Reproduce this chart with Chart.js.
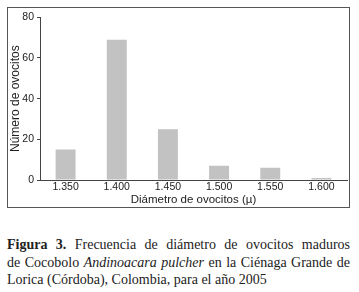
<!DOCTYPE html>
<html>
<head>
<meta charset="utf-8">
<script src="https://cdn.jsdelivr.net/npm/chart.js@4"></script>
<style>
  body { margin: 0; background: #fff; width: 359px; height: 292px; overflow: hidden; }
  #frame { position: absolute; left: 7px; top: 7px; width: 341px; height: 199px; border: 1px solid #555; }
  #caption { position: absolute; left: 7px; top: 236px; width: 343px; font-family: "Liberation Serif", "DejaVu Serif", serif;
    font-size: 14px; line-height: 17.5px; color: #222; }
  #caption div { white-space: nowrap; }
  #caption .just { text-align: justify; text-align-last: justify; }
</style>
</head>
<body>
<div id="frame"><canvas id="myChart" width="341" height="199"></canvas></div>
<div id="caption">
  <div class="just"><b>Figura 3.</b> Frecuencia de diámetro de ovocitos maduros</div>
  <div class="just" style="word-spacing:-1px">de Cocobolo <i>Andinoacara pulcher</i> en la Ciénaga Grande de</div>
  <div>Lorica (Córdoba), Colombia, para el año 2005</div>
</div>
<script>
// Categorías y valores
const diametros = ['1.350', '1.400', '1.450', '1.500', '1.550', '1.600'];
const numeroOvocitos = [15, 69, 25, 7, 6, 1];
const yTicks = [0, 20, 40, 60, 80];

const ctx = document.getElementById('myChart').getContext('2d');

const myChart = new Chart(ctx, {
  type: 'bar',
  data: {
    labels: diametros,
    datasets: [{
      label: 'Número de ovocitos',
      data: numeroOvocitos,
      backgroundColor: '#c2c2c2',
      barPercentage: 0.39,
      categoryPercentage: 1
    }]
  },
  options: {
    responsive: false,
    animation: false,
    layout: { padding: { top: 9, right: 2, left: 0, bottom: 0 } },
    plugins: { legend: { display: false }, tooltip: { enabled: false } },
    scales: {
      x: {
        afterFit: function(axis) { axis.height = 27; },
        grid: { display: false, drawTicks: false },
        border: { display: true, color: '#444', width: 1 },
        ticks: { color: '#222', font: { family: 'Liberation Sans', size: 10.5 }, padding: 1 },
        title: { display: true, text: 'Diámetro de ovocitos (µ)', color: '#222', font: { family: 'Liberation Sans', size: 11.5 }, padding: { top: 0, bottom: 0 } }
      },
      y: {
        min: 0,
        max: 80,
        afterBuildTicks: function(axis) { axis.ticks = yTicks.map(v => ({ value: v })); },
        afterFit: function(axis) { axis.width = 32; },
        grid: { drawOnChartArea: false, drawTicks: true, tickLength: 3, color: '#444' },
        border: { display: true, color: '#444', width: 1 },
        ticks: { color: '#222', font: { family: 'Liberation Sans', size: 10.5 }, padding: 3 },
        title: { display: true, text: 'Número de ovocitos', color: '#222', font: { family: 'Liberation Sans', size: 12 }, padding: { top: 0, bottom: 0 } }
      }
    }
  }
});
</script>
</body>
</html>
